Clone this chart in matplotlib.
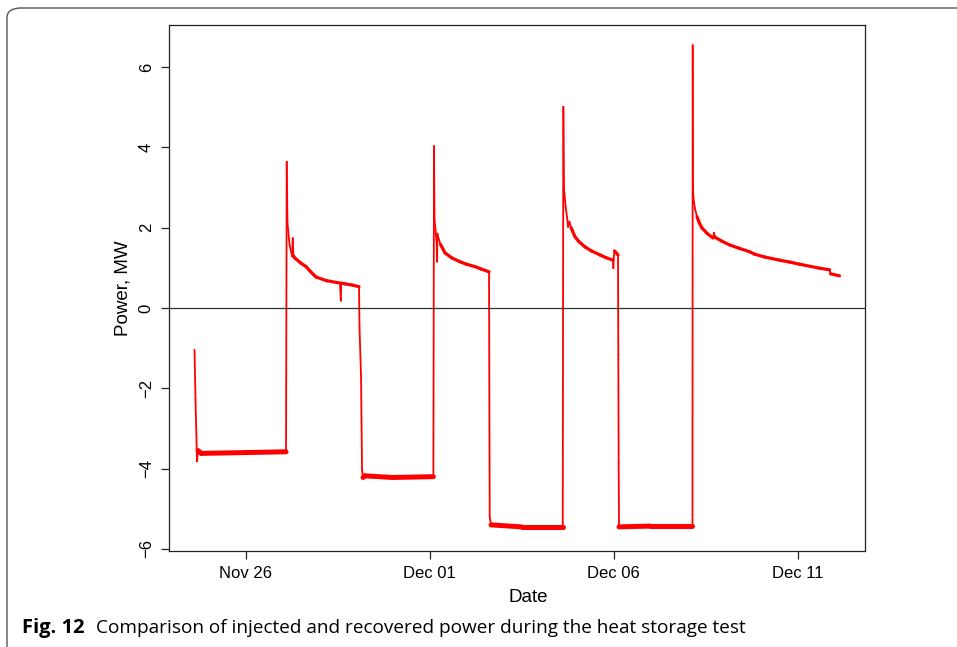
import matplotlib
matplotlib.use('Agg')
import matplotlib.pyplot as plt
import matplotlib.dates as mdates
from matplotlib.collections import LineCollection
from matplotlib.patches import FancyBboxPatch
import numpy as np
import pandas as pd

# time in days after 26 Nov, power in MW
t_days = [-1.386, -1.359, -1.318, -1.291, -1.20, 0.0, 1.101,
          1.120, 1.141, 1.20, 1.27, 1.283, 1.30, 1.345, 1.50, 1.644, 1.75,
          1.861, 1.916, 2.20, 2.568, 2.590, 2.600, 2.704, 2.90, 3.084,
          3.098, 3.139, 3.166, 3.193, 3.25, 4.0, 5.105,
          5.122, 5.136, 5.163, 5.195, 5.204, 5.215, 5.231, 5.30, 5.421,
          5.60, 5.829, 6.0, 6.236, 6.40, 6.617, 6.635, 6.671, 7.5, 8.62,
          8.636, 8.655, 8.682, 8.70, 8.736, 8.764, 8.80, 8.845, 8.954,
          9.05, 9.226, 9.40, 9.633, 9.80, 9.986, 9.995, 10.005, 10.027,
          10.122, 10.130, 10.139, 10.15, 11.0, 12.145,
          12.152, 12.160, 12.17, 12.188, 12.22, 12.269, 12.33, 12.405,
          12.55, 12.704, 12.730, 12.76, 12.95, 13.152, 13.40, 13.696,
          13.832, 14.10, 14.511, 14.80, 15.054, 15.598, 15.870, 15.897,
          16.141]
power_mw = [-1.04, -2.29, -3.82, -3.55, -3.62, -3.60, -3.58,
            3.64, 2.10, 1.55, 1.28, 1.74, 1.30, 1.24, 1.12, 1.03, 0.92,
            0.82, 0.77, 0.68, 0.62, 0.18, 0.62, 0.60, 0.57, 0.53,
            -0.50, -1.70, -4.03, -4.22, -4.18, -4.22, -4.20,
            4.03, 2.19, 1.94, 1.60, 1.15, 1.85, 1.77, 1.58, 1.37,
            1.25, 1.15, 1.09, 1.03, 0.97, 0.90, -5.19, -5.40, -5.45, -5.45,
            5.01, 2.94, 2.69, 2.50, 2.27, 2.02, 2.15, 2.00, 1.77,
            1.66, 1.52, 1.42, 1.32, 1.25, 1.19, 0.99, 1.25, 1.42,
            1.32, -1.17, -3.86, -5.45, -5.43, -5.43,
            6.54, 2.94, 2.78, 2.61, 2.45, 2.27, 2.12, 1.99,
            1.85, 1.74, 1.87, 1.76, 1.66, 1.57, 1.49, 1.40,
            1.34, 1.27, 1.19, 1.14, 1.09, 0.99, 0.95, 0.85,
            0.80]
tick_dates = ['2016-11-26', '2016-12-01', '2016-12-06', '2016-12-11']
start = pd.Timestamp('2016-11-26')

times = start + pd.to_timedelta(t_days, unit='D')
x = mdates.date2num(times.to_pydatetime())
y = np.array(power_mw)

plt.rcParams['font.family'] = ['Liberation Sans', 'DejaVu Sans']

fig = plt.figure(figsize=(9.57, 6.47), dpi=100)
ax = fig.add_axes([0.1766, 0.1484, 0.7273, 0.8130])

# thin for the jumps, thicker where the signal is noisy/flat
pts = np.column_stack([x, y])
segs = np.stack([pts[:-1], pts[1:]], axis=1)
dx_px = np.diff(x) * 36.8
dy_px = np.abs(np.diff(y)) * 40.2
widths = []
for i in range(len(dx_px)):
    if dy_px[i] > 3 * dx_px[i]:
        widths.append(1.3)
    elif y[i] < -3:
        widths.append(3.6)
    else:
        widths.append(2.3)
lc = LineCollection(segs, colors='#ff0000', linewidths=widths,
                    capstyle='round', joinstyle='round')
ax.add_collection(lc)

ax.axhline(0, color='#333333', lw=0.9)

ax.set_xlim(mdates.date2num(start - pd.Timedelta(days=2.079)),
            mdates.date2num(start + pd.Timedelta(days=16.834)))
ax.set_ylim(-6.05, 7.045)

ax.set_xticks(mdates.date2num(pd.to_datetime(tick_dates).to_pydatetime()))
ax.xaxis.set_major_formatter(mdates.DateFormatter('%b %d'))
ax.set_yticks([-6, -4, -2, 0, 2, 4, 6])
ax.set_yticklabels(['\u22126', '\u22124', '\u22122', '0', '2', '4', '6'],
                   rotation=90, va='center')
ax.tick_params(direction='out', length=6, width=0.9, color='#222222',
               labelsize=12, pad=5)
for sp in ax.spines.values():
    sp.set_linewidth(0.9)
    sp.set_color('#222222')

ax.set_xlabel('Date', fontsize=13.5)
ax.xaxis.set_label_coords(0.516, -0.072)
ax.set_ylabel('Power, MW', fontsize=13.5, labelpad=5)

# rounded frame around the figure
frame = FancyBboxPatch((7 / 957, -0.2), 1.2, 1 - 8 / 647 + 0.2,
                       boxstyle='round,pad=0,rounding_size=0.015',
                       transform=fig.transFigure, fill=False,
                       edgecolor='#555555', lw=1.0, clip_on=False)
fig.patches.append(frame)

fig.text(22 / 957, 1 - 628 / 647, 'Fig. 12', fontsize=14.5,
         fontweight='bold', family=['Open Sans', 'DejaVu Sans'],
         va='center', ha='left')
fig.text(96 / 957, 1 - 628 / 647,
         'Comparison of injected and recovered power during the heat storage test',
         fontsize=13.7, family=['Open Sans', 'DejaVu Sans'],
         va='center', ha='left')

fig.savefig('out.png', dpi=100)
